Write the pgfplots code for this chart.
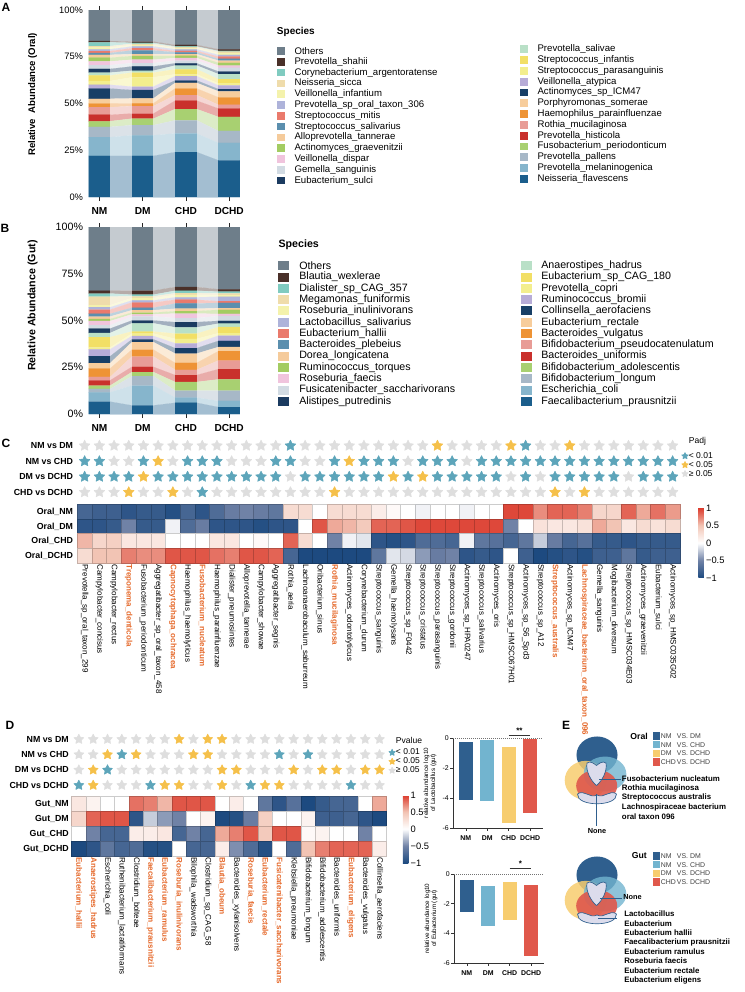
\documentclass[border=0pt]{standalone}
\usepackage{fontspec}
\setmainfont{Liberation Sans}
\usepackage{pgfplots}
\usepackage{pgfplotstable}
\pgfplotsset{compat=1.18}

\newcommand{\fs}[1]{\fontsize{#1pt}{#1pt}\selectfont}
\newcommand{\hl}[1]{\textcolor{orng}{\bfseries #1}}

% species palette, bottom (c1) to top (c26 = Others)
\definecolor{c1}{HTML}{1B5E8C}
\definecolor{c2}{HTML}{86B5CC}
\definecolor{c3}{HTML}{A7B8C7}
\definecolor{c4}{HTML}{A8D071}
\definecolor{c5}{HTML}{C9302C}
\definecolor{c6}{HTML}{E89C96}
\definecolor{c7}{HTML}{EE9335}
\definecolor{c8}{HTML}{F7CD9C}
\definecolor{c9}{HTML}{183F66}
\definecolor{c10}{HTML}{B7ACD7}
\definecolor{c11}{HTML}{F3EE8E}
\definecolor{c12}{HTML}{F2DF65}
\definecolor{c13}{HTML}{B9E0C7}
\definecolor{c14}{HTML}{1B3B60}
\definecolor{c15}{HTML}{D2DBE3}
\definecolor{c16}{HTML}{F0C4DD}
\definecolor{c17}{HTML}{A3CC62}
\definecolor{c18}{HTML}{F5CB9B}
\definecolor{c19}{HTML}{5B8FAE}
\definecolor{c20}{HTML}{EA7A6C}
\definecolor{c21}{HTML}{AEB3DA}
\definecolor{c22}{HTML}{F4F2AC}
\definecolor{c23}{HTML}{EFDCAB}
\definecolor{c24}{HTML}{80CBC0}
\definecolor{c25}{HTML}{4A3029}
\definecolor{c26}{HTML}{6E7E8A}

\definecolor{tealS}{HTML}{5DA5BA}
\definecolor{yellS}{HTML}{F5C04A}
\definecolor{greyS}{HTML}{DEDEDE}
\definecolor{orng}{HTML}{E5692B}
\definecolor{gNM}{HTML}{2F5F8E}
\definecolor{gDM}{HTML}{72B4CF}
\definecolor{gCHD}{HTML}{F7CD6F}
\definecolor{gDCHD}{HTML}{E0584B}
\definecolor{vLav}{HTML}{DCDCEC}

% filled five-point star
\pgfdeclareplotmark{fstar}{%
  \pgfpathmoveto{\pgfpointpolar{90}{\pgfplotmarksize}}%
  \pgfpathlineto{\pgfpointpolar{126}{0.5*\pgfplotmarksize}}%
  \pgfpathlineto{\pgfpointpolar{162}{\pgfplotmarksize}}%
  \pgfpathlineto{\pgfpointpolar{198}{0.5*\pgfplotmarksize}}%
  \pgfpathlineto{\pgfpointpolar{234}{\pgfplotmarksize}}%
  \pgfpathlineto{\pgfpointpolar{270}{0.5*\pgfplotmarksize}}%
  \pgfpathlineto{\pgfpointpolar{306}{\pgfplotmarksize}}%
  \pgfpathlineto{\pgfpointpolar{342}{0.5*\pgfplotmarksize}}%
  \pgfpathlineto{\pgfpointpolar{18}{\pgfplotmarksize}}%
  \pgfpathlineto{\pgfpointpolar{54}{0.5*\pgfplotmarksize}}%
  \pgfpathclose
  \pgfusepathqfillstroke}

\pgfplotsset{
  colormap={heat}{rgb255(0cm)=(29,74,128); rgb255(1cm)=(112,130,166); rgb255(2cm)=(255,255,255); rgb255(3cm)=(242,196,180); rgb255(4cm)=(220,58,44)},
  sigstars/.style={scatter, only marks, forget plot, scatter src=explicit symbolic,
    scatter/classes={n={mark=fstar, greyS}, a={mark=fstar, tealS}, b={mark=fstar, yellS}},
    mark options={line join=round, line width=0.4pt}},
  starleg/.style={only marks, mark=fstar, mark size=2.6pt, mark options={line join=round},
    legend image code/.code={\draw[mark repeat=2, mark phase=2, ##1] plot coordinates {(0pt,0pt) (2.8pt,0pt) (5.6pt,0pt)};}},
  heat/.style={scatter, only marks, forget plot, mark=square*, point meta=explicit},
}

% relative abundance (%), each group written at both bar edges
\pgfplotstableread{
x s1 s2 s3 s4 s5 s6 s7 s8 s9 s10 s11 s12 s13 s14 s15 s16 s17 s18 s19 s20 s21 s22 s23 s24 s25 s26
0.75 22 10 5.5 3 3.5 4 2 2.5 5.5 2 2 3 1.5 2 2 2 2 1.5 1 1 1 1 0.7 2 0.7 16.6
1.25 22 10 5.5 3 3.5 4 2 2.5 5.5 2 2 3 1.5 2 2 2 2 1.5 1 1 1 1 0.7 2 0.7 16.6
1.75 22 11 5.4 3.5 2.7 4 1.5 2.6 4.5 1.8 5 2.5 1 2.3 1.8 1.8 2 1 2 1.2 0.9 0.7 0.7 0.5 0.7 16.9
2.25 22 11 5.4 3.5 2.7 4 1.5 2.6 4.5 1.8 5 2.5 1 2.3 1.8 1.8 2 1 2 1.2 0.9 0.7 0.7 0.5 0.7 16.9
2.75 24 10 7 6 4.5 3 3.5 3 1.3 2.3 1 2.7 2 1.2 1.4 1.4 1.2 0.9 1 0.7 0.9 0.5 0.7 0.3 0.8 18.7
3.25 24 10 7 6 4.5 3 3.5 3 1.3 2.3 1 2.7 2 1.2 1.4 1.4 1.2 0.9 1 0.7 0.9 0.5 0.7 0.3 0.8 18.7
3.75 19.6 9.3 6.4 7.5 4.5 2 4 3.2 1.2 2 1 2.3 2.7 1.4 2 1.2 1.4 1.2 1 1.2 0.9 0.9 0.9 0.3 0.9 21
4.25 19.6 9.3 6.4 7.5 4.5 2 4 3.2 1.2 2 1 2.3 2.7 1.4 2 1.2 1.4 1.2 1 1.2 0.9 0.9 0.9 0.3 0.9 21
}\tabOral

\pgfplotstableread{
x s1 s2 s3 s4 s5 s6 s7 s8 s9 s10 s11 s12 s13 s14 s15 s16 s17 s18 s19 s20 s21 s22 s23 s24 s25 s26
0.75 6.6 5 1.8 1.8 2.8 1.8 4.6 2.8 3.7 3.7 1 5.5 2.2 2.4 1.8 2.2 1.1 1.3 1.5 2.2 1.3 1.1 4.6 1.6 1.5 34.1
1.25 6.6 5 1.8 1.8 2.8 1.8 4.6 2.8 3.7 3.7 1 5.5 2.2 2.4 1.8 2.2 1.1 1.3 1.5 2.2 1.3 1.1 4.6 1.6 1.5 34.1
1.75 4.6 10.6 5 2.2 2.8 5.5 3.7 4 1.5 1.8 1.3 1.1 4.4 1.5 2.2 1.1 0.9 1.3 1.3 2.8 1.1 1.3 0.9 0.9 2.2 34
2.25 4.6 10.6 5 2.2 2.8 5.5 3.7 4 1.5 1.8 1.3 1.1 4.4 1.5 2.2 1.1 0.9 1.3 1.3 2.8 1.1 1.3 0.9 0.9 2.2 34
2.75 6 2.8 3.7 4.6 3.7 2.8 3.7 5 2.9 2.6 2.4 2.8 3.3 2.8 2.2 2.4 1.3 1.3 2.8 2 1.3 1.3 0.9 1.3 2 32.1
3.25 6 2.8 3.7 4.6 3.7 2.8 3.7 5 2.9 2.6 2.4 2.8 3.3 2.8 2.2 2.4 1.3 1.3 2.8 2 1.3 1.3 0.9 1.3 2 32.1
3.75 3.7 3.3 5.5 6 5.5 4.6 5 2.2 3.3 2.8 1.3 3.3 1.8 1.5 2.6 1.1 2.2 0.9 2.8 0.9 2.4 0.9 0.9 0.9 1.3 33.3
4.25 3.7 3.3 5.5 6 5.5 4.6 5 2.2 3.3 2.8 1.3 3.3 1.8 1.5 2.6 1.1 2.2 0.9 2.8 0.9 2.4 0.9 0.9 0.9 1.3 33.3
}\tabGut

% r1..r4: NM vs DM, NM vs CHD, DM vs DCHD, CHD vs DCHD (a <0.01, b <0.05, n ns)
% h1..h4: scaled abundance in NM, DM, CHD, DCHD
\pgfplotstableread{
i r1 r2 r3 r4 h1 h2 h3 h4
1 n a a n -0.75 -0.9 0.55 0.3
2 n a a n -0.8 -0.9 0.35 0.5
3 n n a n -0.8 -0.85 0.4 0.5
4 n n a b -0.9 -0.5 0.2 0.75
5 n a b n -0.85 -0.85 0.2 0.7
6 n b a n -0.85 -0.85 0.2 0.7
7 n n a b -0.95 -0.05 0 0.9
8 n a a n -0.75 -0.7 0 0.9
9 n a a a -0.9 -0.55 0 0.9
10 n a a n -0.7 -0.9 0.2 0.8
11 n n a n -0.55 -0.9 0.2 0.75
12 n n a n -0.5 -0.9 0 0.9
13 n n a n -0.55 -0.95 0.05 0.9
14 n a a n -0.6 -0.9 0 0.85
15 a a n n 0.3 -0.9 0.85 -0.75
16 n n a n 0.3 0 0.3 -1
17 n n a n 0 0.9 0 -1
18 n a a b 0.3 0.6 -0.5 -1
19 n b a n 0.3 0.55 -0.05 -1
20 n a a n 0.3 0.45 -0.1 -1
21 n a a n 0.15 0.85 -0.9 -0.6
22 n a b n 0.05 0.85 -0.95 -0.1
23 n n a n 0 0.9 -0.9 -0.15
24 n a b n -0.05 0.95 -0.7 -0.4
25 b a a n 0 0.95 -0.7 -0.55
26 n a a n 0 0.95 -0.75 -0.5
27 n n a n -0.05 0.95 -0.05 -0.9
28 n a a n 0 0.95 -0.6 -0.85
29 n a a n 0 0.95 -0.65 -0.9
30 b a n n 0.95 -0.5 -0.75 0
31 a a a n 0.95 0 -0.6 -0.8
32 n a n n 0.7 0.25 -0.2 -1
33 n a a b 0.85 0.2 -0.55 -0.95
34 b a a n 0.85 0.2 -0.75 -0.9
35 n a a b 0.75 0.25 -0.65 -0.95
36 n a a n 0.35 0.6 -0.85 -0.8
37 n a a n 0.35 0.5 -0.85 -0.8
38 n a n n 0.85 0.2 -0.9 -0.6
39 n a a n 0.6 0.3 -0.85 -0.85
40 n a a n 0.8 0.25 -0.85 -0.8
41 n a a n 0.65 0.3 -0.85 -0.8
}\tabC

\pgfplotstableread{
i r1 r2 r3 r4 h1 h2 h3 h4
1 n n n a 0.2 0.35 0 -1
2 n n b b 0.1 0.85 -0.5 -0.9
3 n b a n 0 0.9 -0.75 -0.6
4 n a n n 0 0.9 -0.75 -0.75
5 n b n n 0.8 -0.9 0.15 -0.7
6 n n n a 0.75 -0.2 0.15 -0.95
7 n n n b 0.55 -0.4 0.2 -0.95
8 b n n b 0.9 -0.5 -0.75 0
9 n b n n 0.9 0 -0.5 -0.75
10 b b n n 0.9 0.1 -0.75 -0.75
11 b n b b 0 -1 0.6 0.15
12 n n b n 0.15 -0.95 0.75 -0.45
13 n n n a 0 -0.55 0.9 -0.7
14 n n n b -0.6 0.4 0.45 -0.95
15 n a n b -0.9 0 0.9 0
16 n n b n -0.65 0 0.9 -0.7
17 n a n n -1 0.1 0.05 0.5
18 n n b n -0.85 -0.8 0.1 0.75
19 n n b n -0.75 -0.8 0 0.85
20 n n n a -0.75 -0.75 0 0.85
21 n n b n 0 -0.9 -0.5 0.85
22 n n b n 0.6 -1 0 0.15
}\tabD

% floating bars: off = top of bar, then bar length per group
\pgfplotstableread{
x off nm dm chd dchd
1 -0.27 -3.84 0 0 0
2 -0.16 0 -4.02 0 0
3 -0.60 0 0 -5.07 0
4 -0.07 0 0 0 -4.93
}\tabLac

\pgfplotstableread{
x off nm dm chd dchd
1 -0.40 -2.18 0 0 0
2 -0.84 0 -2.67 0 0
3 -0.56 0 0 -2.55 0
4 -0.73 0 0 0 -4.78
}\tabEub

\newcommand{\vennshapes}{%
  \fill[gNM] (597,755) ellipse [x radius=15.4pt, y radius=13.9pt];
  \fill[gCHD, opacity=0.85] (585.7,780.3) ellipse [x radius=15.75pt, y radius=14.6pt];
  \fill[gDM, opacity=0.8] (605,774) ellipse [x radius=16pt, y radius=13.1pt];
  \fill[gDCHD, opacity=0.9] (596.7,785.7) ellipse [x radius=15.4pt, y radius=11.85pt];
  \filldraw[fill=vLav, draw=gNM, line width=0.5pt] (577.5,794) .. controls (584,789) and (590,799) .. (597,795)
    .. controls (604,799) and (610,789) .. (616.5,794) .. controls (617.5,807) and (576.5,807) .. (577.5,794) -- cycle;
  \filldraw[fill=vLav, draw=gNM, line width=0.5pt] (587,763) .. controls (590.5,760.5) and (594,763.5) .. (596.5,765.5)
    .. controls (599,763.5) and (602.5,760.5) .. (606,763) .. controls (607.5,771) and (602,781) .. (596.5,785.5)
    .. controls (591,781) and (585.5,771) .. (587,763) -- cycle;
}

\begin{document}
\begin{tikzpicture}
\useasboundingbox (0pt,0pt) rectangle (558.75pt,-744pt);

%% ---------- A: oral composition ----------
\begin{axis}[
  at={(66.45pt,-147.75pt)}, anchor=south west, scale only axis,
  width=113.55pt, height=140.25pt,
  xmin=0.75, xmax=4.25, ymin=0, ymax=100,
  stack plots=y,
  axis line style={draw=none},
  tick align=outside, major tick length=3pt,
  xtick={1,2,3,4}, xticklabels={NM,DM,CHD,DCHD},
  xtick style={draw=black!85, line width=0.5pt},
  ytick={0,25,50,75,100}, yticklabels={0\%,25\%,50\%,75\%,100\%},
  ytick style={draw=none},
  xticklabel style={font=\bfseries\fs{7.6}, yshift=-1pt},
  yticklabel style={font=\fs{7}, inner sep=1pt},
  ylabel={Relative\ \ Abundance (Oral)},
  ylabel style={font=\bfseries\fs{7.2}, at={(axis description cs:-0.37,0.55)}, anchor=center},
]
\pgfplotsinvokeforeach{1,...,26}{
  \addplot[fill=c#1, draw=c#1, line width=0.1pt] table[x index=0, y index=#1] {\tabOral} \closedcycle;
}
\end{axis}

%% ---------- B: gut composition ----------
\begin{axis}[
  at={(66.45pt,-310.5pt)}, anchor=south west, scale only axis,
  width=113.55pt, height=140.25pt,
  xmin=0.75, xmax=4.25, ymin=0, ymax=100,
  stack plots=y,
  axis line style={draw=none},
  tick align=outside, major tick length=3pt,
  xtick={1,2,3,4}, xticklabels={NM,DM,CHD,DCHD},
  xtick style={draw=black!85, line width=0.5pt},
  ytick={0,25,50,75,100}, yticklabels={0\%,25\%,50\%,75\%,100\%},
  ytick style={draw=none},
  xticklabel style={font=\bfseries\fs{7.6}, yshift=-1pt},
  yticklabel style={font=\fs{8}, inner sep=1pt},
  ylabel={Relative Abundance (Gut)},
  ylabel style={font=\bfseries\fs{8}, at={(axis description cs:-0.37,0.58)}, anchor=center},
]
\pgfplotsinvokeforeach{1,...,26}{
  \addplot[fill=c#1, draw=c#1, line width=0.1pt] table[x index=0, y index=#1] {\tabGut} \closedcycle;
}
\end{axis}

%% ---------- C: oral significance stars ----------
\begin{axis}[
  at={(57.98pt,-328.5pt)}, anchor=north west, scale only axis,
  width=452pt, height=46.5pt,
  xmin=0.5, xmax=41.5, ymin=0.5, ymax=4.5, y dir=reverse,
  axis line style={draw=none}, major tick length=0pt,
  xtick=\empty, ytick={1,2,3,4},
  yticklabels={NM vs DM,NM vs CHD,DM vs DCHD,CHD vs DCHD},
  yticklabel style={font=\bfseries\fs{6.6}, inner sep=3pt},
  mark size=4.2pt, clip=false,
  legend style={at={(axis cs:41.57,0.42)}, anchor=north west, draw=none, fill=none,
    font=\fs{6.4}, inner sep=0pt, row sep=0pt,
    nodes={inner sep=0.4pt, text height=4.6pt, text depth=1.3pt}},
  legend cell align=left,
]
\addplot[sigstars] table[x=i, y expr=1, meta=r1] {\tabC};
\addplot[sigstars] table[x=i, y expr=2, meta=r2] {\tabC};
\addplot[sigstars] table[x=i, y expr=3, meta=r3] {\tabC};
\addplot[sigstars] table[x=i, y expr=4, meta=r4] {\tabC};
\addlegendimage{empty legend}\addlegendentry[text depth=5.5pt]{Padj}
\addlegendimage{starleg, tealS}\addlegendentry{< 0.01}
\addlegendimage{starleg, yellS}\addlegendentry{< 0.05}
\addlegendimage{starleg, greyS}\addlegendentry{≥ 0.05}
\end{axis}

%% ---------- C: oral heatmap ----------
\begin{axis}[
  at={(57.98pt,-378.38pt)}, anchor=north west, scale only axis,
  width=452pt, height=43.88pt,
  xmin=0.5, xmax=41.5, ymin=0.5, ymax=4.5, y dir=reverse,
  axis line style={draw=none}, major tick length=0pt,
  xtick={1,...,41},
  xticklabels={Prevotella\_sp\_oral\_taxon\_299, Campylobacter\_concisus, Campylobacter\_rectus,
    \hl{Treponema\_denticola}, Fusobacterium\_periodonticum, Aggregatibacter\_sp\_oral\_taxon\_458,
    \hl{Capnocytophaga\_ochracea}, Haemophilus\_haemolyticus, \hl{Fusobacterium\_nucleatum},
    Haemophilus\_parainfluenzae, Dialister\_pneumosintes, Alloprevotella\_tannerae,
    Campylobacter\_showae, Aggregatibacter\_segnis, Rothia\_aeria, Lachnoanaerobaculum\_saburreum,
    Oribacterium\_sinus, \hl{Rothia\_mucilaginosa}, Actinomyces\_odontolyticus, Corynebacterium\_durum,
    Streptococcus\_sanguinis, Gemella\_haemolysans, Streptococcus\_sp\_F0442, Streptococcus\_cristatus,
    Streptococcus\_parasanguinis, Streptococcus\_gordonii, Actinomyces\_sp\_HPA0247,
    Streptococcus\_salivarius, Actinomyces\_oris, Streptococcus\_sp\_HMSC067H01,
    Actinomyces\_sp\_S6\_Spd3, Streptococcus\_sp\_A12, \hl{Streptococcus\_australis},
    Actinomyces\_sp\_ICM47, \hl{Lachnospiraceae\_bacterium\_oral\_taxon\_096}, Gemella\_sanguinis,
    Mogibacterium\_diversum, Streptococcus\_sp\_HMSC034E03, Actinomyces\_graevenitzii,
    Eubacterium\_sulci, Actinomyces\_sp\_HMSC035G02},
  xticklabel style={rotate=-90, anchor=west, font=\fs{6}, inner sep=1pt},
  ytick={1,2,3,4}, yticklabels={Oral\_NM,Oral\_DM,Oral\_CHD,Oral\_DCHD},
  yticklabel style={font=\bfseries\fs{6.6}, inner sep=3pt},
  colormap name=heat, point meta min=-1, point meta max=1,
  mark size=5.51pt,
  colorbar,
  colorbar style={scale only axis, at={(parent axis.north east)}, anchor=north west,
    xshift=5.25pt, yshift=-2.6pt, width=4.1pt, height=52.5pt,
    axis line style={draw=none}, major tick length=0pt,
    ytick={-1,-0.5,0,0.5,1}, yticklabels={−1,−0.5,0,0.5,1},
    yticklabel style={font=\fs{7}, inner sep=1.5pt}},
]
\addplot[heat] table[x=i, y expr=1, meta=h1] {\tabC};
\addplot[heat] table[x=i, y expr=2, meta=h2] {\tabC};
\addplot[heat] table[x=i, y expr=3, meta=h3] {\tabC};
\addplot[heat] table[x=i, y expr=4, meta=h4] {\tabC};
\end{axis}

%% ---------- D: gut significance stars ----------
\begin{axis}[
  at={(53.78pt,-548.7pt)}, anchor=north west, scale only axis,
  width=236.25pt, height=46pt,
  xmin=0.5, xmax=22.5, ymin=0.5, ymax=4.5, y dir=reverse,
  axis line style={draw=none}, major tick length=0pt,
  xtick=\empty, ytick={1,2,3,4},
  yticklabels={NM vs DM,NM vs CHD,DM vs DCHD,CHD vs DCHD},
  yticklabel style={font=\bfseries\fs{6.6}, inner sep=2pt},
  mark size=3.9pt, clip=false,
  legend style={at={(axis cs:22.6,0.85)}, anchor=north west, draw=none, fill=none,
    font=\fs{6.4}, inner sep=0pt, row sep=0pt,
    nodes={inner sep=0.4pt, text height=4.6pt, text depth=1.3pt}},
  legend cell align=left,
]
\addplot[sigstars] table[x=i, y expr=1, meta=r1] {\tabD};
\addplot[sigstars] table[x=i, y expr=2, meta=r2] {\tabD};
\addplot[sigstars] table[x=i, y expr=3, meta=r3] {\tabD};
\addplot[sigstars] table[x=i, y expr=4, meta=r4] {\tabD};
\addlegendimage{empty legend}\addlegendentry[text depth=2.8pt]{Pvalue}
\addlegendimage{starleg, tealS}\addlegendentry{< 0.01}
\addlegendimage{starleg, yellS}\addlegendentry{< 0.05}
\addlegendimage{starleg, greyS}\addlegendentry{≥ 0.05}
\end{axis}

%% ---------- D: gut heatmap ----------
\begin{axis}[
  at={(53.78pt,-597pt)}, anchor=north west, scale only axis,
  width=236.25pt, height=45pt,
  xmin=0.5, xmax=22.5, ymin=0.5, ymax=4.5, y dir=reverse,
  axis line style={draw=none}, major tick length=0pt,
  xtick={1,...,22},
  xticklabels={\hl{Eubacterium\_hallii}, \hl{Anaerostipes\_hadrus}, Escherichia\_coli,
    Ruthenibacterium\_lactatiformans, Clostridium\_bolteae, \hl{Faecalibacterium\_prausnitzii},
    \hl{Eubacterium\_ramulus}, \hl{Roseburia\_inulinivorans}, Bilophila\_wadsworthia,
    Clostridium\_sp\_CAG\_58, \hl{Blautia\_obeum}, Bacteroides\_xylanisolvens, \hl{Roseburia\_faecis},
    \hl{Eubacterium\_rectale}, \hl{Fusicatenibacter\_saccharivorans}, Klebsiella\_pneumoniae,
    Bifidobacterium\_longum, Bifidobacterium\_adolescentis, Bacteroides\_uniformis,
    \hl{Eubacterium\_eligens}, Bacteroides\_vulgatus, Collinsella\_aerofaciens},
  xticklabel style={rotate=-90, anchor=west, font=\fs{6}, inner sep=1pt},
  ytick={1,2,3,4}, yticklabels={Gut\_NM,Gut\_DM,Gut\_CHD,Gut\_DCHD},
  yticklabel style={font=\bfseries\fs{6.6}, inner sep=2pt},
  colormap name=heat, point meta min=-1, point meta max=1,
  mark size=5.37pt,
  colorbar,
  colorbar style={scale only axis, at={(parent axis.north east)}, anchor=north west,
    xshift=3.6pt, yshift=0.75pt, width=4.1pt, height=51pt,
    axis line style={draw=none}, major tick length=0pt,
    ytick={-1,-0.5,0,0.5,1}, yticklabels={−1,−0.5,0,0.5,1},
    yticklabel style={font=\fs{7}, inner sep=1.5pt}},
]
\addplot[heat, mark options={yscale=1.0475}] table[x=i, y expr=1, meta=h1] {\tabD};
\addplot[heat, mark options={yscale=1.0475}] table[x=i, y expr=2, meta=h2] {\tabD};
\addplot[heat, mark options={yscale=1.0475}] table[x=i, y expr=3, meta=h3] {\tabD};
\addplot[heat, mark options={yscale=1.0475}] table[x=i, y expr=4, meta=h4] {\tabD};
\end{axis}

%% ---------- D: Lactobacillus ----------
\begin{axis}[
  at={(339.75pt,-621pt)}, anchor=south west, scale only axis,
  width=67.5pt, height=67.5pt,
  xmin=0.4, xmax=4.6, ymin=-6, ymax=0,
  axis lines*=left, axis line style={draw=black!80, line width=0.5pt},
  ybar stacked, bar width=10.5pt,
  tick align=outside, major tick length=2pt, tick style={black!80, line width=0.5pt},
  xtick={1,2,3,4}, xticklabels={NM,DM,CHD,DCHD},
  ytick={-6,-4,-2,0}, yticklabels={-6,-4,-2,0},
  xticklabel style={font=\bfseries\fs{5.2}},
  yticklabel style={font=\fs{5.2}, inner sep=1pt},
  ylabel={relative abundance log10\\of Lactobacillus (gut)},
  ylabel style={font=\fontsize{4.7pt}{5.4pt}\selectfont, align=center},
  clip=false,
]
\addplot[draw=none, fill=none] table[x=x, y=off] {\tabLac};
\addplot[draw=none, fill=gNM] table[x=x, y=nm] {\tabLac};
\addplot[draw=none, fill=gDM] table[x=x, y=dm] {\tabLac};
\addplot[draw=none, fill=gCHD] table[x=x, y=chd] {\tabLac};
\addplot[draw=none, fill=gDCHD] table[x=x, y=dchd] {\tabLac};
\draw[densely dotted, black!55, line width=0.5pt] (axis cs:0.4,0) -- (axis cs:4.6,0);
\draw[black!80, line width=0.5pt] (axis cs:3,0.2) -- (axis cs:4,0.2);
\node[font=\bfseries\fs{6}] at (axis cs:3.5,0.5) {**};
\end{axis}

%% ---------- D: Eubacterium ----------
\begin{axis}[
  at={(340.5pt,-722.25pt)}, anchor=south west, scale only axis,
  width=67.5pt, height=66.75pt,
  xmin=0.4, xmax=4.6, ymin=-6, ymax=0,
  axis lines*=left, axis line style={draw=black!80, line width=0.5pt},
  ybar stacked, bar width=10.5pt,
  tick align=outside, major tick length=2pt, tick style={black!80, line width=0.5pt},
  xtick={1,2,3,4}, xticklabels={NM,DM,CHD,DCHD},
  ytick={-6,-4,-2,0}, yticklabels={-6,-4,-2,0},
  xticklabel style={font=\bfseries\fs{5.2}},
  yticklabel style={font=\fs{5.2}, inner sep=1pt},
  ylabel={relative abundance log10\\of Eubacterium (gut)},
  ylabel style={font=\fontsize{4.7pt}{5.4pt}\selectfont, align=center},
  clip=false,
]
\addplot[draw=none, fill=none] table[x=x, y=off] {\tabEub};
\addplot[draw=none, fill=gNM] table[x=x, y=nm] {\tabEub};
\addplot[draw=none, fill=gDM] table[x=x, y=dm] {\tabEub};
\addplot[draw=none, fill=gCHD] table[x=x, y=chd] {\tabEub};
\addplot[draw=none, fill=gDCHD] table[x=x, y=dchd] {\tabEub};
\draw[densely dotted, black!55, line width=0.5pt] (axis cs:0.4,0) -- (axis cs:4.6,0);
\draw[black!80, line width=0.5pt] (axis cs:3,0.4) -- (axis cs:4,0.4);
\node[font=\bfseries\fs{6}] at (axis cs:3.5,0.72) {*};
\end{axis}

%% ---------- legends, flow shading, Venn diagrams, panel letters (pixel grid) ----------
\begin{scope}[x=0.75pt, y=-0.75pt]
  % lighten the flows between the stacked bars (A: y 10-197, B: y 227-414)
  \foreach \xa/\xb in {110.23/131.86, 153.49/175.11, 196.74/218.37}{
    \fill[white, opacity=0.6] (\xa,10) rectangle (\xb,197);
    \fill[white, opacity=0.6] (\xa,227) rectangle (\xb,414);
  }

  \node[font=\bfseries\fs{9}] at (6,7) {A};
  \node[font=\bfseries\fs{9}] at (5,228) {B};
  \node[font=\bfseries\fs{9}] at (6,443) {C};
  \node[font=\bfseries\fs{9}] at (10,725) {D};
  \node[font=\bfseries\fs{9}] at (566,725) {E};

  % A legend
  \node[anchor=west, inner sep=0pt, font=\bfseries\fs{7.5}] at (276.7,31.7) {Species};
  \foreach \n [count=\k from 0] in {Others, Prevotella\_shahii, Corynebacterium\_argentoratense,
      Neisseria\_sicca, Veillonella\_infantium, Prevotella\_sp\_oral\_taxon\_306, Streptococcus\_mitis,
      Streptococcus\_salivarius, Alloprevotella\_tannerae, Actinomyces\_graevenitzii, Veillonella\_dispar,
      Gemella\_sanguinis, Eubacterium\_sulci}{
    \pgfmathtruncatemacro{\ci}{26-\k}
    \fill[fill=c\ci] (276.7,{51+10.8*\k-3.85}) rectangle ++(8.3,7.7);
    \node[anchor=west, inner sep=0pt, font=\fs{7.2}] at (294.3,{51+10.8*\k}) {\n};
  }
  \foreach \n [count=\k from 0] in {Prevotella\_salivae, Streptococcus\_infantis, Streptococcus\_parasanguinis,
      Veillonella\_atypica, Actinomyces\_sp\_ICM47, Porphyromonas\_somerae, Haemophilus\_parainfluenzae,
      Rothia\_mucilaginosa, Prevotella\_histicola, Fusobacterium\_periodonticum, Prevotella\_pallens,
      Prevotella\_melaninogenica, Neisseria\_flavescens}{
    \pgfmathtruncatemacro{\ci}{13-\k}
    \fill[fill=c\ci] (520,{49.3+10.8*\k-3.85}) rectangle ++(8.3,7.7);
    \node[anchor=west, inner sep=0pt, font=\fs{7.2}] at (537.3,{49.3+10.8*\k}) {\n};
  }

  % B legend
  \node[anchor=west, inner sep=0pt, font=\bfseries\fs{8}] at (278.3,245) {Species};
  \foreach \n [count=\k from 0] in {Others, Blautia\_wexlerae, Dialister\_sp\_CAG\_357, Megamonas\_funiformis,
      Roseburia\_inulinivorans, Lactobacillus\_salivarius, Eubacterium\_hallii, Bacteroides\_plebeius,
      Dorea\_longicatena, Ruminococcus\_torques, Roseburia\_faecis, Fusicatenibacter\_saccharivorans,
      Alistipes\_putredinis}{
    \pgfmathtruncatemacro{\ci}{26-\k}
    \fill[fill=c\ci] (278.3,{265.7+11.3*\k-4.5}) rectangle ++(10.7,9);
    \node[anchor=west, inner sep=0pt, font=\fs{8}] at (299,{265.7+11.3*\k}) {\n};
  }
  \foreach \n [count=\k from 0] in {Anaerostipes\_hadrus, Eubacterium\_sp\_CAG\_180, Prevotella\_copri,
      Ruminococcus\_bromii, Collinsella\_aerofaciens, Eubacterium\_rectale, Bacteroides\_vulgatus,
      Bifidobacterium\_pseudocatenulatum, Bacteroides\_uniformis, Bifidobacterium\_adolescentis,
      Bifidobacterium\_longum, Escherichia\_coli, Faecalibacterium\_prausnitzii}{
    \pgfmathtruncatemacro{\ci}{13-\k}
    \fill[fill=c\ci] (521,{265.7+11.3*\k-4.5}) rectangle ++(10.7,9);
    \node[anchor=west, inner sep=0pt, font=\fs{8}] at (541,{265.7+11.3*\k}) {\n};
  }

  % E: oral Venn
  \vennshapes
  \draw[gNM, line width=0.6pt] (599,779) -- (621,779);
  \draw[gNM, line width=0.6pt] (596.7,794) -- (596.7,826);
  \node[font=\bfseries\fs{5.5}] at (597,831.5) {None};
  \foreach \t [count=\k from 0] in {Fusobacterium nucleatum, Rothia mucilaginosa, Streptococcus australis,
      Lachnospiraceae bacterium, oral taxon 096}{
    \node[anchor=west, inner sep=0pt, font=\bfseries\fs{5.9}] at (621.7,{779+9.35*\k}) {\t};
  }
  \node[anchor=east, inner sep=0pt, font=\bfseries\fs{6.5}] at (648,736) {Oral};
  \foreach \g/\v/\c [count=\k from 0] in {NM/DM/gNM, NM/CHD/gDM, DM/DCHD/gCHD, CHD/DCHD/gDCHD}{
    \fill[fill=\c] (652.7,{736+8.67*\k-3.6}) rectangle ++(7.3,7.2);
    \node[anchor=west, inner sep=0pt, font=\fs{5.2}, text=black!75] at (660.5,{736+8.67*\k}) {\g};
    \node[anchor=west, inner sep=0pt, font=\fs{5.2}, text=black!75] at (676.7,{736+8.67*\k}) {VS. \v};
  }

  % E: gut Venn
  \begin{scope}[shift={(0,120)}]
    \vennshapes
  \end{scope}
  \draw[gNM, line width=0.6pt] (600,898) -- (622,898);
  \node[anchor=west, inner sep=0pt, font=\bfseries\fs{5.5}] at (623,897) {None};
  \draw[gNM, line width=0.6pt] (598,918) -- (617,918);
  \foreach \t [count=\k from 0] in {Lactobacillus, Eubacterium, Eubacterium hallii,
      Faecalibacterium prausnitzii, Eubacterium ramulus, Roseburia faecis, Eubacterium rectale,
      Eubacterium eligens}{
    \node[anchor=west, inner sep=0pt, font=\bfseries\fs{5.9}] at (624,{914+9.43*\k}) {\t};
  }
  \node[anchor=east, inner sep=0pt, font=\bfseries\fs{6.5}] at (647,856) {Gut};
  \foreach \g/\v/\c [count=\k from 0] in {NM/DM/gNM, NM/CHD/gDM, DM/DCHD/gCHD, CHD/DCHD/gDCHD}{
    \fill[fill=\c] (652.7,{856+8.67*\k-3.6}) rectangle ++(7.3,7.2);
    \node[anchor=west, inner sep=0pt, font=\fs{5.2}, text=black!75] at (660.5,{856+8.67*\k}) {\g};
    \node[anchor=west, inner sep=0pt, font=\fs{5.2}, text=black!75] at (676.7,{856+8.67*\k}) {VS. \v};
  }
\end{scope}

\end{tikzpicture}
\end{document}
